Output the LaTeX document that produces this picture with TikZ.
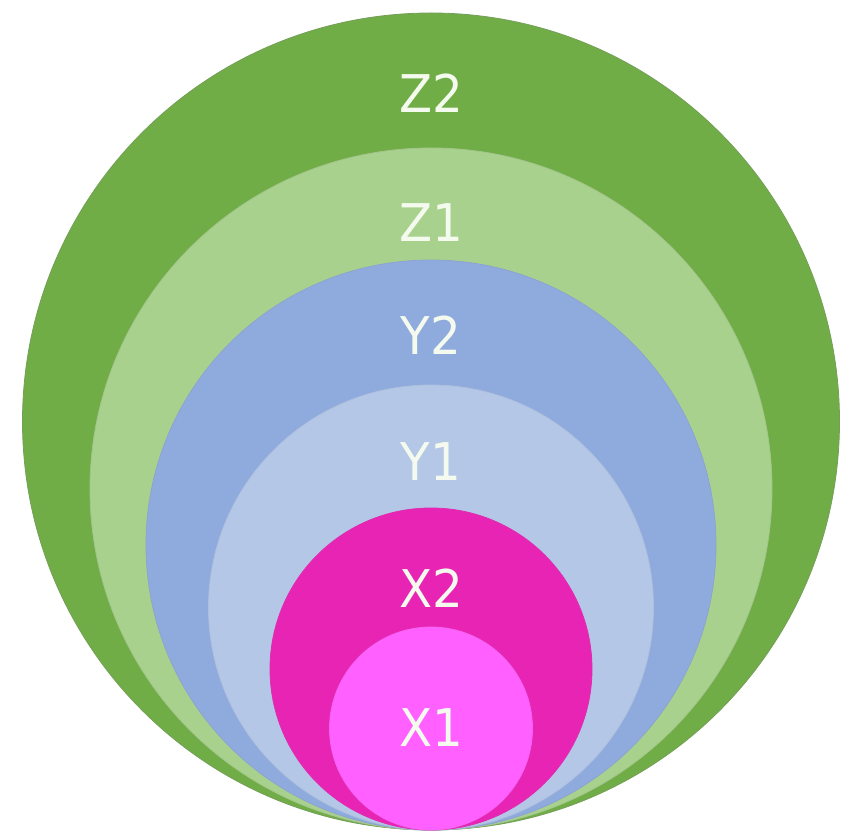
\documentclass[tikz,border=0pt]{standalone}
\usepackage{fontspec}
\setmainfont{DejaVu Sans}
\definecolor{zA}{HTML}{70AD47}
\definecolor{zB}{HTML}{A9D18E}
\definecolor{yA}{HTML}{8FAADC}
\definecolor{yB}{HTML}{B4C7E7}
\definecolor{xA}{HTML}{E824B4}
\definecolor{xB}{HTML}{FF60FF}
\definecolor{lbl}{HTML}{F4FAEE}
\begin{document}
\begin{tikzpicture}[x=1pt,y=1pt,
  ring/.style={circle,inner sep=0pt,outer sep=0pt,line width=0.8pt},
  lab/.style={text=lbl,font=\fontsize{52}{52}\selectfont,xscale=0.93,inner sep=0pt}]
\useasboundingbox (0,0) rectangle (846,835);
\node[ring,fill=zA,draw=zA!70!gray,minimum size=817] (z2) at (431,413.5) {};
\node[ring,fill=zB,draw=zB!85!gray,minimum size=682] (z1) at (431,346) {};
\node[ring,fill=yA,draw=yA!85!gray,minimum size=570] (y2) at (431,290) {};
\node[ring,fill=yB,draw=yB!90!gray,minimum size=445] (y1) at (431,227.5) {};
\node[ring,fill=xA,draw=xA!90!gray,minimum size=322] (x2) at (431,166) {};
\node[ring,fill=xB,draw=xB!90!gray,minimum size=203] (x1) at (431,106.5) {};
\node[lab] (tz2) at (431,742) {Z2};
\node[lab] (tz1) at (431,612) {Z1};
\node[lab] (ty2) at (431,500) {Y2};
\node[lab] (ty1) at (431,373) {Y1};
\node[lab] (tx2) at (431,247) {X2};
\node[lab] (tx1) at (431,107) {X1};
\end{tikzpicture}
\end{document}
